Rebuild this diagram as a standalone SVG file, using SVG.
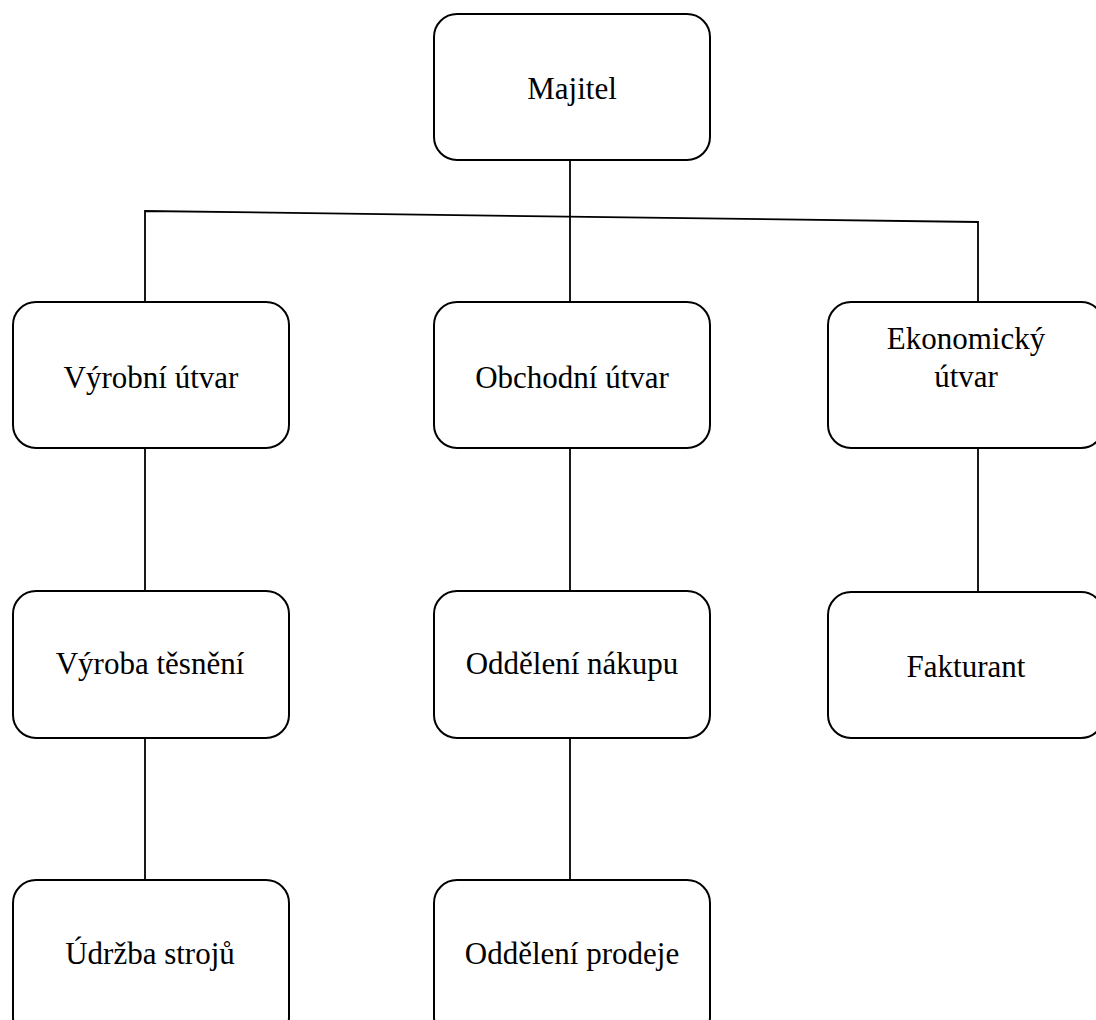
<svg xmlns="http://www.w3.org/2000/svg" width="1096" height="1020" viewBox="0 0 1096 1020">
<style>
.box{fill:#fff;stroke:#000;stroke-width:2}
.ln{stroke:#000;stroke-width:1.8;fill:none}
text{font-family:"Liberation Serif","Times New Roman",serif;font-size:31px;fill:#000;text-anchor:middle}
</style>
<rect width="1096" height="1020" fill="#fff"/>
<g id="connectors">
<line class="ln" x1="570" y1="160" x2="570" y2="302"/>
<polyline class="ln" points="145,302 145,211 978,222 978,302"/>
<line class="ln" x1="145" y1="448" x2="145" y2="591"/>
<line class="ln" x1="570" y1="448" x2="570" y2="591"/>
<line class="ln" x1="978" y1="448" x2="978" y2="591"/>
<line class="ln" x1="145" y1="738" x2="145" y2="880"/>
<line class="ln" x1="570" y1="738" x2="570" y2="880"/>
</g>
<g id="majitel"><rect class="box" x="434" y="14" width="276" height="146" rx="23"/><text x="572" y="99">Majitel</text></g>
<g id="vyrobni-utvar"><rect class="box" x="13" y="302" width="276" height="146" rx="23"/><text x="151" y="388">Výrobní útvar</text></g>
<g id="obchodni-utvar"><rect class="box" x="434" y="302" width="276" height="146" rx="23"/><text x="572" y="388">Obchodní útvar</text></g>
<g id="ekonomicky-utvar"><rect class="box" x="828" y="302" width="276" height="146" rx="23"/><text x="966" y="349">Ekonomický</text><text x="966" y="387">útvar</text></g>
<g id="vyroba-tesneni"><rect class="box" x="13" y="591" width="276" height="147" rx="23"/><text x="150" y="674">Výroba těsnění</text></g>
<g id="oddeleni-nakupu"><rect class="box" x="434" y="591" width="276" height="147" rx="23"/><text x="572" y="674">Oddělení nákupu</text></g>
<g id="fakturant"><rect class="box" x="828" y="592" width="276" height="146" rx="23"/><text x="966" y="677">Fakturant</text></g>
<g id="udrzba-stroju"><rect class="box" x="13" y="880" width="276" height="160" rx="23"/><text x="150" y="964">Údržba strojů</text></g>
<g id="oddeleni-prodeje"><rect class="box" x="434" y="880" width="276" height="160" rx="23"/><text x="572" y="964">Oddělení prodeje</text></g>
</svg>
